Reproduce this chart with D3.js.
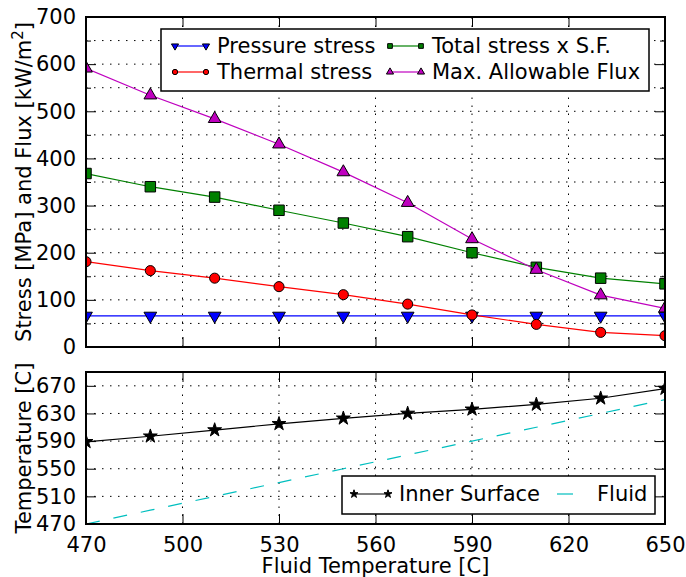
<!DOCTYPE html>
<html>
<head>
<meta charset="utf-8">
<script src="https://cdn.jsdelivr.net/npm/d3@7"></script>
<style>
  body { margin: 0; background: #fff; }
  text { font-family: "DejaVu Sans", sans-serif; fill: #000; }
</style>
</head>
<body>
<div id="chart"></div>
<script>
// Data
let fluidTemp = [470, 490, 510, 530, 550, 570, 590, 610, 630, 650];
let pressureStress = [66, 66, 66, 66, 66, 66, 66, 66, 66, 66];
let thermalStress = [181, 162, 146, 128, 111, 91, 68, 48, 31, 24];
let totalStressSF = [368, 340, 318, 290, 263, 234, 200, 169, 146, 134];
let maxFlux = [591, 534, 484, 430, 371, 306, 229, 164, 110, 82];
let innerSurface = [589, 597, 606, 615, 623, 630, 636, 643, 652, 666];
let fluidLine = [470, 490, 510, 530, 550, 570, 590, 610, 630, 650];

let xTicks = [470, 500, 530, 560, 590, 620, 650];
let stressTicks = [0, 100, 200, 300, 400, 500, 600, 700];
let stressMinor = [50, 150, 250, 350, 450, 550, 650];
let tempTicks = [470, 510, 550, 590, 630, 670];

let width = 686, height = 577;
let left = 86, right = 665;
let fs = "21px";

let svg = d3.select("#chart")
	.append("svg")
	.attr("width", width)
	.attr("height", height);

let x = d3.scaleLinear().domain([470, 650]).range([left, right]);
let yTop = d3.scaleLinear().domain([0, 700]).range([347, 17]);
let yBot = d3.scaleLinear().domain([470, 690]).range([524, 372]);

// Marker shapes
let sym = {
	tri: d3.symbol().type(d3.symbolTriangle),
	circle: d3.symbol().type(d3.symbolCircle),
	square: d3.symbol().type(d3.symbolSquare),
	star: d3.symbol().type(d3.symbolStar)
};

function drawMarker(g, kind, cx, cy, size, fill, flip) {
	g.append("path")
		.attr("d", sym[kind].size(size)())
		.attr("transform", "translate(" + cx + "," + cy + ")" + (flip ? " rotate(180)" : ""))
		.attr("fill", fill)
		.attr("stroke", "#000")
		.attr("stroke-width", 1);
}

// Sets up a panel: clip, grid, ticks
function panel(id, y, yTicks, yMinor, gridTicks, showX) {
	let r = y.range();
	let g = svg.append("g");
	svg.append("clipPath").attr("id", id)
		.append("rect").attr("x", left).attr("y", r[1])
		.attr("width", right - left).attr("height", r[0] - r[1]);

	let grid = g.append("g")
		.attr("stroke", "#000")
		.attr("stroke-width", 1)
		.attr("stroke-dasharray", "1.5,6.5");
	grid.selectAll(".gy").data(gridTicks).enter().append("line")
		.attr("x1", left).attr("x2", right)
		.attr("y1", d => y(d)).attr("y2", d => y(d));
	grid.selectAll(".gx").data(xTicks.slice(1, -1)).enter().append("line")
		.attr("y1", r[0]).attr("y2", r[1])
		.attr("x1", d => x(d)).attr("x2", d => x(d));

	let yl = g.append("g").attr("transform", "translate(" + left + ",0)")
		.call(d3.axisLeft(y).tickValues(yTicks).tickSizeInner(-10).tickSizeOuter(0));
	g.append("g").attr("transform", "translate(" + right + ",0)")
		.call(d3.axisRight(y).tickValues(yTicks).tickSizeInner(-10).tickSizeOuter(0).tickFormat(""));
	g.append("g").attr("transform", "translate(0," + r[1] + ")")
		.call(d3.axisTop(x).tickValues(xTicks).tickSizeInner(-10).tickSizeOuter(0).tickFormat(""));
	g.append("g").attr("transform", "translate(0," + r[0] + ")")
		.call(d3.axisBottom(x).tickValues(xTicks).tickSizeInner(-10).tickSizeOuter(0).tickPadding(13)
			.tickFormat(showX ? d3.format("d") : ""));
	if (yMinor) {
		g.append("g").attr("transform", "translate(" + left + ",0)")
			.call(d3.axisLeft(y).tickValues(yMinor).tickSizeInner(-5).tickSizeOuter(0).tickFormat(""));
		g.append("g").attr("transform", "translate(" + right + ",0)")
			.call(d3.axisRight(y).tickValues(yMinor).tickSizeInner(-5).tickSizeOuter(0).tickFormat(""));
	}
	g.selectAll(".domain").remove();
	g.selectAll(".tick line").attr("stroke", "#000").attr("stroke-width", 1);
	g.selectAll(".tick text")
		.style("font-family", "DejaVu Sans")
		.style("font-size", fs)
		.attr("fill", "#000");
	yl.selectAll(".tick text").attr("x", -10);
	return g;
}

function border(y) {
	let r = y.range();
	svg.append("rect")
		.attr("x", left).attr("y", r[1])
		.attr("width", right - left).attr("height", r[0] - r[1])
		.attr("fill", "none").attr("stroke", "#000").attr("stroke-width", 2);
}

// ---- top panel ----
panel("clipTop", yTop, stressTicks, stressMinor, stressTicks.concat(stressMinor), false);

let topSeries = [
	{ name: "Pressure stress", values: pressureStress, color: "#0000ff", marker: "tri", flip: true, size: 70 },
	{ name: "Thermal stress", values: thermalStress, color: "#ff0000", marker: "circle", size: 80 },
	{ name: "Total stress x S.F.", values: totalStressSF, color: "#008000", marker: "square", size: 110 },
	{ name: "Max. Allowable Flux", values: maxFlux, color: "#bf00bf", marker: "tri", flip: false, size: 70 }
];

let plotTop = svg.append("g").attr("clip-path", "url(#clipTop)");
let line = d3.line();
topSeries.forEach(function (s) {
	let pts = fluidTemp.map((t, i) => [x(t), yTop(s.values[i])]);
	plotTop.append("path").attr("d", line(pts))
		.attr("fill", "none").attr("stroke", s.color).attr("stroke-width", 1.2);
	pts.forEach(p => drawMarker(plotTop, s.marker, p[0], p[1], s.size, s.color, s.flip));
});
border(yTop);

// top legend
let lg = svg.append("g");
lg.append("rect").attr("x", 161).attr("y", 29).attr("width", 488).attr("height", 62)
	.attr("fill", "#fff").attr("stroke", "#000").attr("stroke-width", 1.5);
let legPos = [[175, 46], [175, 72], [390, 46], [390, 72]];
topSeries.forEach(function (s, i) {
	let p = legPos[i];
	lg.append("line").attr("x1", p[0]).attr("x2", p[0] + 31).attr("y1", p[1]).attr("y2", p[1])
		.attr("stroke", s.color).attr("stroke-width", 1.2);
	drawMarker(lg, s.marker, p[0], p[1], 22, s.color, s.flip);
	drawMarker(lg, s.marker, p[0] + 31, p[1], 22, s.color, s.flip);
	lg.append("text").attr("x", p[0] + 42).attr("y", p[1] + 7)
		.style("font-size", fs).text(s.name);
});

// ---- bottom panel ----
panel("clipBot", yBot, tempTicks, null, tempTicks, true);

let plotBot = svg.append("g").attr("clip-path", "url(#clipBot)");
plotBot.append("path")
	.attr("d", line(fluidTemp.map((t, i) => [x(t), yBot(fluidLine[i])])))
	.attr("fill", "none").attr("stroke", "#00bfbf").attr("stroke-width", 1.2)
	.attr("stroke-dasharray", "14,14");
let innerPts = fluidTemp.map((t, i) => [x(t), yBot(innerSurface[i])]);
plotBot.append("path").attr("d", line(innerPts))
	.attr("fill", "none").attr("stroke", "#000").attr("stroke-width", 1.2);
innerPts.forEach(p => drawMarker(plotBot, "star", p[0], p[1], 60, "#000", false));
border(yBot);

// bottom legend
let lb = svg.append("g");
lb.append("rect").attr("x", 342).attr("y", 476).attr("width", 313).attr("height", 38)
	.attr("fill", "#fff").attr("stroke", "#000").attr("stroke-width", 1.5);
lb.append("line").attr("x1", 354).attr("x2", 388).attr("y1", 494).attr("y2", 494)
	.attr("stroke", "#000").attr("stroke-width", 1.2);
drawMarker(lb, "star", 354, 494, 20, "#000", false);
drawMarker(lb, "star", 388, 494, 20, "#000", false);
lb.append("text").attr("x", 399).attr("y", 501).style("font-size", fs).text("Inner Surface");
lb.append("line").attr("x1", 557).attr("x2", 573).attr("y1", 494).attr("y2", 494)
	.attr("stroke", "#00bfbf").attr("stroke-width", 1.2);
lb.append("text").attr("x", 597).attr("y", 501).style("font-size", fs).text("Fluid");

// axis labels
let ylab = svg.append("text")
	.attr("transform", "translate(31," + ((17 + 347) / 2) + ") rotate(-90)")
	.attr("text-anchor", "middle")
	.style("font-size", fs);
ylab.append("tspan").text("Stress [MPa] and Flux [kW/m");
ylab.append("tspan").attr("dy", -8).style("font-size", "15px").text("2");
ylab.append("tspan").attr("dy", 8).text("]");

svg.append("text")
	.attr("transform", "translate(31," + ((372 + 524) / 2) + ") rotate(-90)")
	.attr("text-anchor", "middle")
	.style("font-size", fs)
	.text("Temperature [C]");

svg.append("text")
	.attr("x", (left + right) / 2).attr("y", 573)
	.attr("text-anchor", "middle")
	.style("font-size", fs)
	.text("Fluid Temperature [C]");
</script>
</body>
</html>
